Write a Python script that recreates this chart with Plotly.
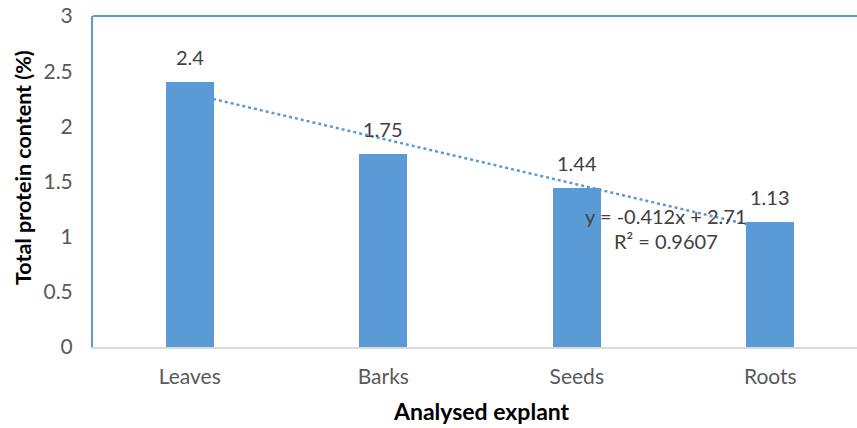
import plotly.graph_objects as go

categories = ["Leaves", "Barks", "Seeds", "Roots"]
values = [2.4, 1.75, 1.44, 1.13]
value_labels = ["2.4", "1.75", "1.44", "1.13"]
slope = -0.412
intercept = 2.71
r2 = 0.9607
y_ticks = [0, 0.5, 1, 1.5, 2, 2.5, 3]
y_tick_labels = ["0", "0.5", "1", "1.5", "2", "2.5", "3"]

BLUE = "#5B9BD5"
FONT = "Lato"

x_idx = list(range(len(categories)))
trend_y = [slope * (i + 1) + intercept for i in x_idx]

fig = go.Figure()
fig.add_trace(go.Scatter(x=x_idx, y=trend_y, mode="lines",
                         line=dict(color=BLUE, width=2.5, dash="dot"),
                         hoverinfo="skip", showlegend=False))
fig.add_trace(go.Bar(x=x_idx, y=values, width=0.248, marker=dict(color=BLUE, line_width=0),
                     showlegend=False))

for i, (v, t) in enumerate(zip(values, value_labels)):
    fig.add_annotation(x=i, y=v, text=t, showarrow=False, yanchor="middle", yshift=25,
                       font=dict(family=FONT, size=20, color="#404040"))

fig.add_annotation(x=2.463, y=1.19, text=f"y = {slope}x + {intercept}", showarrow=False,
                   font=dict(family=FONT, size=20, color="#404040"))
fig.add_annotation(x=2.46, y=0.96, text=f"R² = {r2}", showarrow=False,
                   font=dict(family=FONT, size=20, color="#404040"))

# axis titles
fig.add_annotation(xref="paper", yref="paper", x=-0.0916, y=0.541, text="<b>Total protein content (%)</b>",
                   textangle=-90, showarrow=False, xanchor="center", yanchor="middle",
                   font=dict(family=FONT, size=21.5, color="black"))
fig.add_annotation(xref="paper", yref="paper", x=0.509, y=-0.193, text="<b>Analysed explant</b>",
                   showarrow=False, xanchor="center", yanchor="middle",
                   font=dict(family=FONT, size=23, color="black"))

fig.add_shape(type="line", xref="paper", yref="paper", x0=0, x1=1, y0=1, y1=1,
              line=dict(color=BLUE, width=2))

fig.update_layout(
    width=857, height=428,
    margin=dict(l=93, r=0, t=16, b=81),
    plot_bgcolor="white", paper_bgcolor="white",
    bargap=0,
    xaxis=dict(range=[-0.5, 3.448], tickmode="array", tickvals=x_idx, ticktext=categories,
               showgrid=False, zeroline=False, showline=True, linecolor="#D9D9D9", linewidth=2,
               ticks="", ticklabelstandoff=10, automargin=False,
               tickfont=dict(family=FONT, size=21, color="#595959")),
    yaxis=dict(range=[0, 3], tickmode="array", tickvals=y_ticks, ticktext=y_tick_labels,
               showgrid=False, zeroline=False, showline=True, linecolor=BLUE, linewidth=2,
               ticks="", ticklabelstandoff=14, automargin=False,
               tickfont=dict(family=FONT, size=21, color="#595959")),
)

fig.write_html("out.html", config={"displayModeBar": False},
               post_script="document.body.style.margin='0';document.body.style.overflow='hidden';")
